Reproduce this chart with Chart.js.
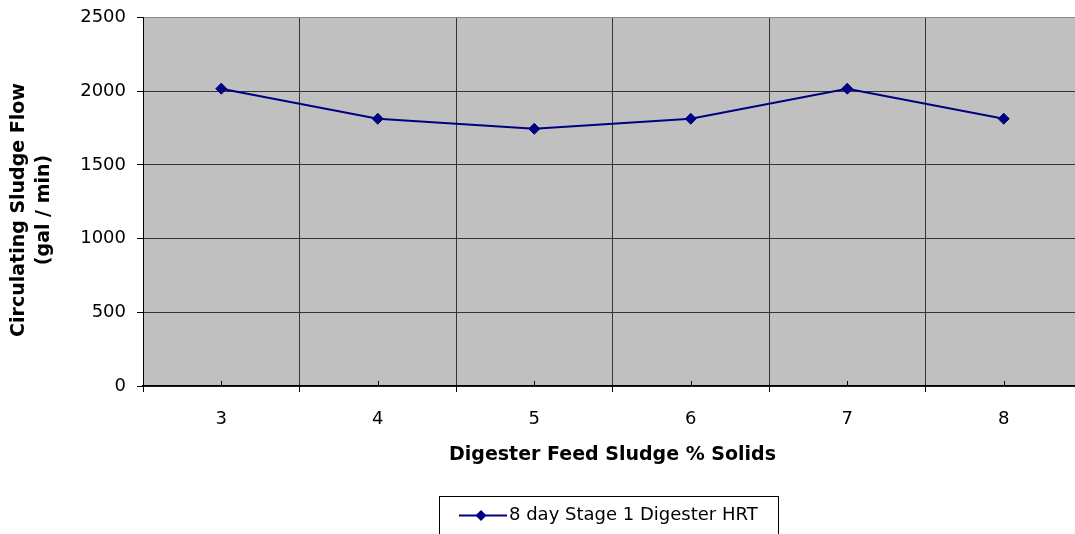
<!DOCTYPE html>
<html>
<head>
<meta charset="utf-8">
<script src="https://cdn.jsdelivr.net/npm/chart.js@4/dist/chart.umd.min.js"></script>
<style>
  html, body { margin: 0; padding: 0; overflow: hidden; background: #fff; }
  #wrap { position: absolute; left: 0; top: 0; width: 1090px; height: 534px; }
</style>
</head>
<body>
<div id="wrap"><canvas id="c"></canvas></div>
<script>
// Feed sludge solids (%) and the circulating sludge flow each one needs
const categories = ['3', '4', '5', '6', '7', '8'];
const flowValues = [2017, 1813, 1745, 1813, 2017, 1813];
const yTicks = [0, 500, 1000, 1500, 2000, 2500];
const seriesLabel = '8 day Stage 1 Digester HRT';
const xTitle = 'Digester Feed Sludge % Solids';
const yTitle = ['Circulating Sludge Flow', '(gal / min)'];

const FONT = 'DejaVu Sans';
const NAVY = '#000080';

// grey plot background
const plotBackground = {
  id: 'plotBackground',
  beforeDraw(chart) {
    const { ctx, chartArea: a } = chart;
    ctx.save();
    ctx.fillStyle = '#C0C0C0';
    ctx.fillRect(a.left, a.top, a.right - a.left, a.bottom - a.top);
    ctx.restore();
  }
};

// short inward tick marks at each category centre
const centreTicks = {
  id: 'centreTicks',
  beforeDatasetsDraw(chart) {
    const { ctx, chartArea: a } = chart;
    const xs = chart.scales.x;
    ctx.save();
    ctx.strokeStyle = '#000';
    ctx.lineWidth = 1;
    categories.forEach((c, i) => {
      const x = Math.round(xs.getPixelForValue(i)) + 0.5;
      ctx.beginPath();
      ctx.moveTo(x, a.bottom);
      ctx.lineTo(x, a.bottom - 5);
      ctx.stroke();
    });
    ctx.restore();
  }
};

// rotated two-line y-axis title and the boxed legend
const annotations = {
  id: 'annotations',
  afterDraw(chart) {
    const ctx = chart.ctx;
    ctx.save();
    ctx.fillStyle = '#000';
    ctx.font = 'bold 19px "' + FONT + '"';
    ctx.textAlign = 'center';
    ctx.textBaseline = 'middle';
    const cols = [18.7, 44.5];
    yTitle.forEach((line, i) => {
      ctx.save();
      ctx.translate(cols[i], 210);
      ctx.rotate(-Math.PI / 2);
      ctx.fillText(line, 0, 0);
      ctx.restore();
    });

    // legend
    const ds = chart.data.datasets[0];
    const ly = 515.5;
    ctx.strokeStyle = '#000';
    ctx.lineWidth = 1;
    ctx.strokeRect(439.5, 496.5, 339, 60);
    ctx.strokeStyle = ds.borderColor;
    ctx.lineWidth = ds.borderWidth;
    ctx.beginPath();
    ctx.moveTo(459, ly);
    ctx.lineTo(507, ly);
    ctx.stroke();
    const r = ds.pointRadius;
    ctx.fillStyle = ds.pointBackgroundColor;
    ctx.beginPath();
    ctx.moveTo(481 - r, ly);
    ctx.lineTo(481, ly - r);
    ctx.lineTo(481 + r, ly);
    ctx.lineTo(481, ly + r);
    ctx.closePath();
    ctx.fill();
    ctx.fillStyle = '#000';
    ctx.font = '18px "' + FONT + '"';
    ctx.textAlign = 'left';
    ctx.fillText(ds.label, 509, ly);
    ctx.restore();
  }
};

new Chart(document.getElementById('c'), {
  type: 'line',
  data: {
    labels: categories,
    datasets: [{
      label: seriesLabel,
      data: flowValues,
      borderColor: NAVY,
      borderWidth: 2,
      tension: 0,
      pointStyle: 'rectRot',
      pointRadius: 5.5,
      pointHoverRadius: 5.5,
      pointBackgroundColor: NAVY,
      pointBorderColor: NAVY,
      pointBorderWidth: 1,
      fill: false
    }]
  },
  options: {
    responsive: true,
    maintainAspectRatio: false,
    devicePixelRatio: 1,
    animation: false,
    layout: { padding: { left: 0, top: 17.5, right: 8, bottom: 62 } },
    plugins: {
      legend: { display: false },
      tooltip: { enabled: false }
    },
    scales: {
      x: {
        type: 'category',
        offset: true,
        grid: { offset: true, color: '#333', lineWidth: 1, tickLength: 6, tickColor: '#000' },
        border: { color: '#000', width: 1.5 },
        ticks: { color: '#000', font: { family: FONT, size: 18 }, padding: 17, maxRotation: 0, autoSkip: false },
        title: {
          display: true, text: xTitle, color: '#000',
          font: { family: FONT, size: 19, weight: 'bold', lineHeight: 1.2 },
          padding: { top: 0, bottom: 6 }
        },
        afterFit(s) { s.height = 86; }
      },
      y: {
        min: 0,
        max: 2500,
        afterBuildTicks(s) { s.ticks = yTicks.map(v => ({ value: v })); },
        grid: {
          color: c => (c.tick && c.tick.value === 2500) ? '#8a8a8a' : '#333',
          lineWidth: 1, tickLength: 6, tickColor: '#000'
        },
        border: { color: '#000', width: 1 },
        ticks: {
          color: '#000', font: { family: FONT, size: 18 }, padding: 11,
          callback: v => String(v)
        },
        afterFit(s) {
          s.width = 143;
          s.paddingTop = 10;
          s.paddingBottom = 10;
        }
      }
    }
  },
  plugins: [plotBackground, centreTicks, annotations]
});
</script>
</body>
</html>
